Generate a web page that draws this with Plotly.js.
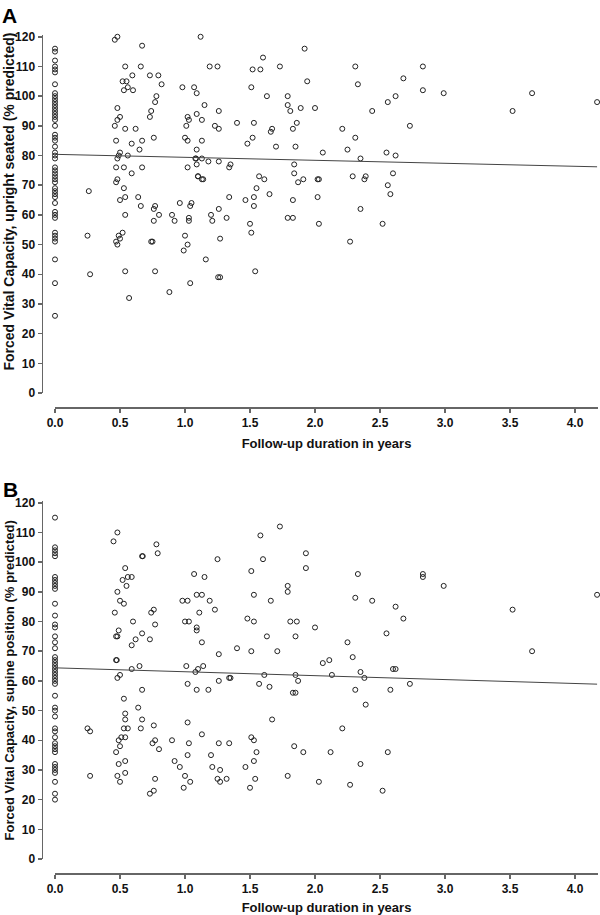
<!DOCTYPE html>
<html>
<head>
<meta charset="utf-8">
<script src="https://cdn.plot.ly/plotly-3.0.1.min.js"></script>
<style>html,body{margin:0;padding:0;background:#fff;}#chart{width:600px;height:915px;}</style>
</head>
<body>
<div id="chart"></div>
<script>
// ---- Panel A: upright seated ----
const seatedYears = [
  0,0,0,0,0,0,0,0,0,0,0,0,0,0,0,0,0,0,0,0,0,0,0,0,0,0,0,0,0,0,0,0,0,0,0,0,0,0,0,0,0,0,0,0,0,0,
  0.46,0.48,0.67,0.54,0.66,0.595,0.73,0.795,0.52,0.55,0.82,0.56,0.53,0.60,0.78,0.77,0.48,0.74,0.50,0.48,
  0.73,0.46,0.54,0.62,0.47,0.67,0.59,0.76,0.65,0.50,0.49,0.56,0.48,0.47,0.53,0.67,0.59,0.48,0.47,0.53,
  0.26,0.54,0.50,0.64,0.66,0.77,0.76,0.54,0.80,0.76,0.90,0.92,0.96,0.98,1.07,1.09,1.02,1.03,1.01,1.09,
  1.00,1.02,1.09,1.08,1.085,1.09,1.02,1.10,1.04,1.05,1.03,1.03,0.25,0.49,0.47,0.48,0.50,0.52,0.27,0.54,
  0.57,0.74,0.75,0.77,0.88,1.00,0.99,1.02,1.04,1.12,1.92,1.60,1.19,1.25,1.52,1.58,1.73,2.31,1.94,2.33,
  1.51,1.63,1.79,1.15,1.79,1.81,1.89,2.00,2.44,2.56,2.62,1.26,1.13,1.23,1.26,1.40,1.53,1.66,1.67,1.83,
  1.86,2.21,2.31,1.13,1.52,1.48,1.70,1.85,2.06,2.25,2.35,2.55,2.62,1.13,1.18,1.26,1.35,1.34,1.84,1.84,
  1.10,1.13,1.14,1.57,1.61,1.55,1.87,1.91,2.02,2.03,2.29,2.38,2.39,2.60,2.56,2.58,1.65,1.34,1.465,1.53,
  1.53,1.83,2.02,1.26,2.35,1.20,1.21,1.32,1.50,1.79,1.83,2.03,2.52,1.51,1.27,2.27,1.16,1.54,1.255,1.27,
  2.83,2.68,2.83,2.99,2.73,3.52,3.67,4.17
];
const seatedFVC = [
  116,115,112,110,109,108,104,101,100,99,98,97,96,95,94,93,92,90,87,86,85,83,81,80,79,76,75,74,73,72,71,69,68,67,66,64,61,60,59,54,53,52,51,45,37,26,
  119,120,117,110,110,107,107,107,105,105,104,103,102,102,100,98,96,95,93,92,
  93,90,89,89,85,85,84,86,82,81,80,80,79,76,76,76,74,72,71,69,
  68,66,65,66,63,63,62,60,60,58,60,58,64,103,103,101,93,92,90,94,
  86,85,82,79,79,77,76,73,63,64,59,58,53,53,51,50,52,54,40,41,
  32,51,51,41,34,53,48,50,37,120,116,113,110,110,109,109,110,110,105,104,
  103,100,100,97,97,95,96,96,95,98,100,95,92,90,89,91,91,88,89,89,
  91,89,86,85,86,84,83,83,81,82,79,81,80,79,78,78,77,76,77,74,
  73,72,72,73,72,69,71,72,72,72,73,72,73,74,70,67,67,66,65,66,
  63,65,66,62,62,60,58,59,57,59,59,57,57,54,52,51,45,41,39,39,
  110,106,102,101,90,95,101,98
];
const seatedFitYears = [0, 4.17];
const seatedFitFVC = [80.4, 76.2];

// ---- Panel B: supine position ----
const supineYears = [
  0,0,0,0,0,0,0,0,0,0,0,0,0,0,0,0,0,0,0,0,0,0,0,0,0,0,0,0,0,0,0,0,0,0,0,0,0,0,0,0,0,0,0,0,0,
  0.48,0.45,0.67,0.675,0.78,0.79,0.54,0.56,0.59,0.52,0.55,0.48,0.50,0.53,0.46,0.60,0.74,0.76,0.77,0.47,
  0.48,0.49,0.67,0.62,0.59,0.73,0.47,0.475,0.59,0.65,0.50,0.48,0.98,1.02,1.00,1.03,1.07,1.09,1.11,1.09,
  1.09,1.01,1.10,1.08,1.02,0.53,0.64,0.67,0.54,0.54,0.67,0.53,0.56,0.66,0.51,0.54,0.49,0.50,0.47,0.49,
  0.54,0.54,0.48,0.50,0.25,0.27,0.27,0.76,0.77,0.75,0.80,0.77,0.76,0.73,0.90,0.92,0.96,1.00,0.99,1.04,
  1.02,1.03,1.02,1.09,1.73,1.58,1.25,1.60,1.93,1.93,1.51,1.15,2.33,1.79,1.79,1.13,1.53,1.19,1.66,2.31,
  2.44,2.62,1.23,1.48,1.53,1.81,1.86,2.00,2.55,1.63,1.85,1.13,2.25,1.40,1.51,1.71,1.26,2.29,2.11,2.06,
  1.14,2.35,2.60,2.62,1.34,1.35,1.61,1.85,2.13,2.38,1.26,1.57,1.87,1.65,1.18,1.83,1.85,2.31,2.58,2.39,
  1.67,1.13,2.21,1.26,1.34,1.51,1.53,1.84,1.20,1.55,1.91,2.12,2.56,1.53,1.21,1.27,1.465,2.35,1.79,1.25,
  1.32,1.54,1.27,1.50,2.03,2.27,2.52,2.83,2.83,2.99,2.68,3.52,3.67,4.17,2.73
];
const supineFVC = [
  115,105,104,103,102,95,94,93,92,91,86,82,79,78,75,73,71,68,67,66,65,64,63,62,61,60,59,55,51,50,48,44,43,41,39,38,37,36,32,31,30,29,26,22,20,
  110,107,102,102,106,103,98,95,95,94,92,90,87,86,83,80,83,84,79,75,
  75,77,76,74,72,74,67,67,64,65,62,61,87,87,80,80,96,89,83,78,
  77,65,64,63,59,54,51,57,49,47,47,44,44,44,41,41,40,38,36,32,
  33,29,28,26,44,43,28,45,40,39,37,27,23,22,40,33,31,28,24,26,
  46,39,35,57,112,109,101,101,103,98,97,95,96,92,90,89,89,87,87,88,
  87,85,84,81,80,80,80,78,76,75,75,73,73,71,70,70,69,68,67,66,
  65,63,64,64,61,61,62,62,62,61,60,59,60,58,57,56,56,57,57,52,
  47,42,44,39,39,41,40,38,35,36,36,36,36,33,31,30,31,32,28,27,
  27,27,26,24,26,25,23,96,95,92,81,84,70,89,59
];
const supineFitYears = [0, 4.17];
const supineFitFVC = [64.4, 58.9];

const xTickVals = [0, 0.5, 1, 1.5, 2, 2.5, 3, 3.5, 4];
const xTickText = ['0.0','0.5','1.0','1.5','2.0','2.5','3.0','3.5','4.0'];
const yTickVals = [0,10,20,30,40,50,60,70,80,90,100,110,120];
const xTitle = 'Follow-up duration in years';
const seatedTitle = 'Forced Vital Capacity, upright seated (% predicted)';
const supineTitle = 'Forced Vital Capacity, supine position (% predicted)';

const W = 600, H = 915;
const fontFam = 'Liberation Sans, Arial, Helvetica, sans-serif';
const markerStyle = {symbol: 'circle-open', size: 5, color: '#222', line: {width: 1, color: '#222'}};
const lineStyle = {color: '#444', width: 1};

const traces = [
  {x: seatedYears, y: seatedFVC, xaxis: 'x', yaxis: 'y', type: 'scatter', mode: 'markers', marker: markerStyle, cliponaxis: false},
  {x: seatedFitYears, y: seatedFitFVC, xaxis: 'x', yaxis: 'y', type: 'scatter', mode: 'lines', line: lineStyle, cliponaxis: false},
  {x: supineYears, y: supineFVC, xaxis: 'x2', yaxis: 'y2', type: 'scatter', mode: 'markers', marker: markerStyle, cliponaxis: false},
  {x: supineFitYears, y: supineFitFVC, xaxis: 'x2', yaxis: 'y2', type: 'scatter', mode: 'lines', line: lineStyle, cliponaxis: false}
];

function xAxis(posPx, title) {
  return {
    domain: [55 / W, 598 / W], range: [0, 4.177], anchor: 'free', position: 1 - posPx / H,
    showline: true, linecolor: '#666', linewidth: 1.5, ticks: 'outside', ticklen: 4, tickwidth: 1.5, tickcolor: '#666',
    tickvals: xTickVals, ticktext: xTickText, tickfont: {size: 12, weight: 'bold', color: '#111'},
    showgrid: false, zeroline: false, fixedrange: true,
    title: {text: title, font: {size: 13, weight: 'bold', color: '#111'}, standoff: 10}
  };
}
function yAxis(zeroPx, topPx) {
  return {
    domain: [1 - zeroPx / H, 1 - topPx / H], range: [0, 120.6], anchor: 'free', position: 41.5 / W,
    showline: true, linecolor: '#666', linewidth: 1.5, ticks: 'outside', ticklen: 4, tickwidth: 1.5, tickcolor: '#666',
    tickvals: yTickVals, tickfont: {size: 12, weight: 'bold', color: '#111'},
    showgrid: false, zeroline: false, fixedrange: true
  };
}
function yTitle(text, centerPx, size) {
  return {text: text, xref: 'paper', yref: 'paper', x: 8.5 / W, y: 1 - centerPx / H, xanchor: 'center', yanchor: 'middle',
    textangle: -90, showarrow: false, font: {size: size, weight: 'bold', color: '#111'}};
}

const layout = {
  width: W, height: H, margin: {l: 0, r: 0, t: 0, b: 0},
  paper_bgcolor: '#fff', plot_bgcolor: '#fff', showlegend: false,
  font: {family: fontFam, color: '#111'},
  xaxis: xAxis(407, xTitle),
  yaxis: yAxis(393, 35),
  xaxis2: xAxis(873, xTitle),
  yaxis2: yAxis(859, 501),
  annotations: [
    {text: 'A', xref: 'paper', yref: 'paper', x: 0, y: 1 - 2 / H, xanchor: 'left', yanchor: 'top', showarrow: false, font: {size: 21, weight: 'bold', color: '#000'}},
    {text: 'B', xref: 'paper', yref: 'paper', x: 1 / W, y: 1 - 476 / H, xanchor: 'left', yanchor: 'top', showarrow: false, font: {size: 21, weight: 'bold', color: '#000'}},
    yTitle(seatedTitle, 202, 14),
    yTitle(supineTitle, 681, 13)
  ]
};

Plotly.newPlot('chart', traces, layout, {displayModeBar: false, staticPlot: true});
</script>
</body>
</html>
